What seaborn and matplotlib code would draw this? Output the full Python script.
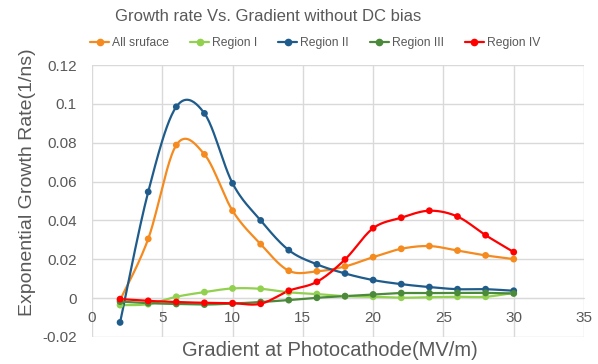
import numpy as np
import pandas as pd
import matplotlib
matplotlib.use("Agg")
import matplotlib.pyplot as plt
import seaborn as sns
from matplotlib.ticker import FuncFormatter, MultipleLocator

# ---- data ----
gradient = [2, 4, 6, 8, 10, 12, 14, 16, 18, 20, 22, 24, 26, 28, 30]
all_surface = [-0.001, 0.0305, 0.0788, 0.074, 0.045, 0.0278, 0.0141, 0.0138, 0.0163,
               0.0211, 0.0254, 0.0268, 0.0245, 0.022, 0.0201]
region_1 = [-0.0036, -0.0031, 0.0007, 0.0031, 0.005, 0.0048, 0.003, 0.0021, 0.001,
            0.0007, 0.0002, 0.0005, 0.0007, 0.0007, 0.0027]
region_2 = [-0.0125, 0.0547, 0.0985, 0.0951, 0.0591, 0.040, 0.0247, 0.0174, 0.0127,
            0.0093, 0.0072, 0.0057, 0.0046, 0.0046, 0.0038]
region_3 = [-0.0018, -0.0026, -0.003, -0.0033, -0.0028, -0.002, -0.001, 0.0002, 0.001,
            0.0019, 0.0026, 0.0026, 0.0027, 0.0027, 0.0024]
region_4 = [-0.0005, -0.0014, -0.002, -0.0024, -0.0026, -0.0029, 0.0038, 0.0084, 0.0199,
            0.036, 0.0414, 0.045, 0.042, 0.0324, 0.0237]
series_names = ["All sruface", "Region I", "Region II", "Region III", "Region IV"]
colors = ["#F58A1F", "#92D050", "#1F5C8C", "#4A8A3A", "#FF0000"]
title = "Growth rate Vs. Gradient without DC bias"
xlabel = "Gradient at Photocathode(MV/m)"
ylabel = "Exponential Growth Rate(1/ns)"

series_vals = [all_surface, region_1, region_2, region_3, region_4]


def smooth(x, y, n=24):
    """Excel-style smoothed line (Catmull-Rom / cardinal Bezier) through the points."""
    x = np.asarray(x, float)
    y = np.asarray(y, float)
    xs, ys = [], []
    for i in range(len(x) - 1):
        p0 = np.array([x[max(i - 1, 0)], y[max(i - 1, 0)]])
        p1 = np.array([x[i], y[i]])
        p2 = np.array([x[i + 1], y[i + 1]])
        p3 = np.array([x[min(i + 2, len(x) - 1)], y[min(i + 2, len(x) - 1)]])
        c1 = p1 + (p2 - p0) / 6.0
        c2 = p2 - (p3 - p1) / 6.0
        t = np.linspace(0, 1, n, endpoint=(i == len(x) - 2))
        pts = ((1 - t) ** 3)[:, None] * p1 + (3 * (1 - t) ** 2 * t)[:, None] * c1 \
            + (3 * (1 - t) * t ** 2)[:, None] * c2 + (t ** 3)[:, None] * p2
        xs.extend(pts[:, 0])
        ys.extend(pts[:, 1])
    return xs, ys


raw_rows, smooth_rows = [], []
for name, vals in zip(series_names, series_vals):
    for g, v in zip(gradient, vals):
        raw_rows.append((name, g, v))
    sx, sy = smooth(gradient, vals)
    for a, b in zip(sx, sy):
        smooth_rows.append((name, a, b))
raw = pd.DataFrame(raw_rows, columns=["series", "x", "y"])
smo = pd.DataFrame(smooth_rows, columns=["series", "x", "y"])

sns.set_style("white")
plt.rcParams["font.family"] = ["Liberation Sans", "DejaVu Sans"]
TXT = "#595959"
GRID = "#D9D9D9"

fig = plt.figure(figsize=(5.98, 3.64), dpi=100)
ax = fig.add_axes([0.1538, 0.0742, 0.8228, 0.7472])
palette = dict(zip(series_names, colors))

sns.lineplot(data=smo, x="x", y="y", hue="series", palette=palette, sort=False,
             estimator=None, linewidth=1.6, ax=ax, legend=False, zorder=3)
sns.scatterplot(data=raw, x="x", y="y", hue="series", palette=palette, s=24,
                edgecolor="none", ax=ax, legend=False, zorder=4)

ax.set_xlim(0, 35)
ax.set_ylim(-0.02, 0.12)
ax.xaxis.set_major_locator(MultipleLocator(5))
ax.yaxis.set_major_locator(MultipleLocator(0.02))
ax.yaxis.set_major_formatter(FuncFormatter(lambda v, p: f"{v:.2f}".rstrip("0").rstrip(".") if abs(v) > 1e-9 else "0"))
ax.grid(True, color=GRID, linewidth=1.0)
ax.set_axisbelow(True)
for s in ["top", "right", "left"]:
    ax.spines[s].set_visible(False)
ax.spines["bottom"].set_position(("data", 0))
ax.spines["bottom"].set_color(GRID)
ax.tick_params(axis="both", length=0, labelsize=11, labelcolor=TXT)
ax.tick_params(axis="y", pad=11)
ax.tick_params(axis="x", pad=9)
ax.set_xlabel("")
ax.set_ylabel("")

fig.text(0.046, 0.4986, ylabel, rotation=90, ha="center", va="center", fontsize=14, color=TXT)
fig.text(0.552, 0.038, xlabel, ha="center", va="center", fontsize=14.5, color=TXT)
fig.text(0.448, 0.955, title, ha="center", va="center", fontsize=12, color=TXT)

handles = [plt.Line2D([], [], color=c, marker="o", markersize=4.5, linewidth=1.6) for c in colors]
fig.legend(handles, series_names, loc="center", bbox_to_anchor=(0.527, 0.882), ncol=5,
           frameon=False, fontsize=8.7, labelcolor=TXT, handlelength=1.6, handletextpad=0.25,
           columnspacing=1.7)

fig.savefig("out.png", dpi=100)
